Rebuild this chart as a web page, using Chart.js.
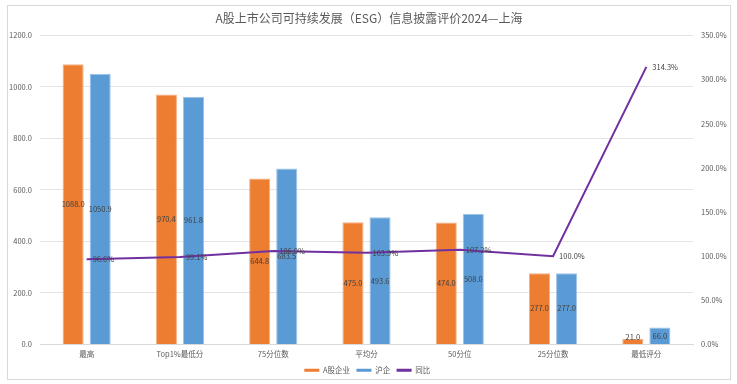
<!DOCTYPE html>
<html>
<head>
<meta charset="utf-8">
<script src="https://cdn.jsdelivr.net/npm/chart.js@4"></script>
<style>
  body { margin: 0; background: #fff; }
  .box { position: absolute; left: 7px; top: 5px; width: 722px; height: 373px; border: 1px solid #d9d9d9; }
</style>
</head>
<body>
<div class="box"><canvas id="chart" width="722" height="373"></canvas></div>
<script>
const categories = ['最高', 'Top1%最低分', '75分位数', '平均分', '50分位', '25分位数', '最低评分'];
const aShare = [1088.0, 970.4, 644.8, 475.0, 474.0, 277.0, 21.0];
const shanghai = [1050.9, 961.8, 683.5, 493.6, 508.0, 277.0, 66.0];
const yoy = [96.6, 99.1, 106.0, 103.9, 107.2, 100.0, 314.3];

const FONT = '"Noto Sans CJK SC", "Noto Sans", sans-serif';

// draw value labels: bars in the middle, line points to the right
const valueLabels = {
    id: 'valueLabels',
    afterDatasetsDraw(chart) {
        const ctx = chart.ctx;
        ctx.save();
        ctx.font = '7.5px ' + FONT;
        ctx.fillStyle = '#404040';
        ctx.textBaseline = 'middle';
        chart.data.datasets.forEach((ds, i) => {
            const meta = chart.getDatasetMeta(i);
            meta.data.forEach((el, j) => {
                const v = ds.data[j];
                if (ds.type === 'line') {
                    ctx.textAlign = 'left';
                    ctx.fillText(v.toFixed(1) + '%', el.x + 6, el.y);
                } else {
                    ctx.textAlign = 'center';
                    const y = Math.min((el.y + el.base) / 2, el.base - 7);
                    ctx.fillText(v.toFixed(1), el.x, y);
                }
            });
        });
        ctx.restore();
    }
};

new Chart(document.getElementById('chart'), {
    data: {
        labels: categories,
        datasets: [
            {
                type: 'bar',
                label: 'A股企业',
                data: aShare,
                yAxisID: 'y',
                backgroundColor: '#ed7d31',
                borderColor: '#f4b183',
                borderWidth: 1,
                barPercentage: 0.78,
                categoryPercentage: 0.58,
                order: 1
            },
            {
                type: 'bar',
                label: '沪企',
                data: shanghai,
                yAxisID: 'y',
                backgroundColor: '#5b9bd5',
                borderColor: '#9dc3e6',
                borderWidth: 1,
                barPercentage: 0.78,
                categoryPercentage: 0.58,
                order: 1
            },
            {
                type: 'line',
                label: '同比',
                data: yoy,
                yAxisID: 'y1',
                borderColor: '#7030a0',
                backgroundColor: '#7030a0',
                borderWidth: 2,
                pointRadius: 0,
                tension: 0,
                order: 0
            }
        ]
    },
    options: {
        responsive: false,
        animation: false,
        layout: { padding: { left: 0, right: 0, top: 0, bottom: -5 } },
        plugins: {
            title: {
                display: true,
                text: 'A股上市公司可持续发展（ESG）信息披露评价2024—上海',
                color: '#595959',
                font: { family: FONT, size: 12, weight: 'normal' },
                padding: { top: 5, bottom: 10 }
            },
            legend: {
                position: 'bottom',
                labels: {
                    color: '#595959',
                    font: { family: FONT, size: 7.5 },
                    boxWidth: 15,
                    boxHeight: 3,
                    padding: 3,
                    sort: (a, b) => a.datasetIndex - b.datasetIndex,
                    generateLabels(chart) {
                        const items = Chart.defaults.plugins.legend.labels.generateLabels(chart);
                        items.forEach(it => { it.lineWidth = 0; it.text = it.text + '  '; });
                        return items;
                    }
                }
            },
            tooltip: { enabled: false }
        },
        scales: {
            x: {
                grid: { display: false, drawTicks: false },
                border: { color: '#d9d9d9' },
                ticks: { color: '#595959', font: { family: FONT, size: 7.5 }, padding: 5 }
            },
            y: {
                position: 'left',
                min: 0,
                max: 1200,
                afterFit(scale) { scale.width = 32; },
                grid: { color: '#e4e4e4', drawTicks: false },
                border: { display: false },
                ticks: {
                    stepSize: 200,
                    color: '#595959',
                    font: { family: FONT, size: 7.5 },
                    padding: 8,
                    callback: v => v.toFixed(1)
                }
            },
            y1: {
                position: 'right',
                min: 0,
                max: 350,
                afterFit(scale) { scale.width = 37; },
                grid: { display: false, drawTicks: false },
                border: { display: false },
                ticks: {
                    stepSize: 50,
                    color: '#595959',
                    font: { family: FONT, size: 7.5 },
                    padding: 8,
                    callback: v => v.toFixed(1) + '%'
                }
            }
        }
    },
    plugins: [valueLabels]
});
</script>
</body>
</html>
